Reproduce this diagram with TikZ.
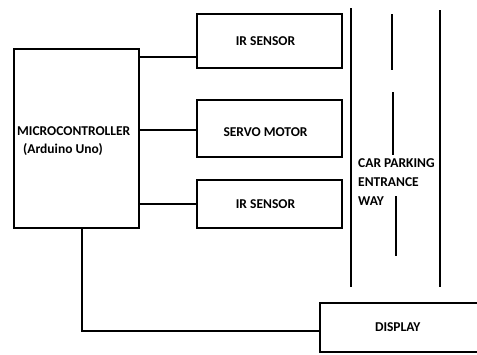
\documentclass[tikz,border=0pt]{standalone}
\usepackage{fontspec}
\setmainfont{Carlito}
\usetikzlibrary{positioning}

\tikzset{
  blk/.style={draw,line width=2.6pt,minimum width=145pt,font=\bfseries\fontsize{13.5}{19}\selectfont,inner sep=0pt},
  wire/.style={line width=2.4pt},
  road/.style={line width=2.6pt}
}

\begin{document}
\begin{tikzpicture}[x=1pt,y=-1pt]
\useasboundingbox (0,0) rectangle (477,354);
% main blocks
\node[blk,minimum width=125pt,minimum height=179pt](mcu) at (76.5,138.5){};
\node[font=\bfseries\fontsize{13.5}{19}\selectfont,align=left,anchor=north west,inner sep=0pt](mcutxt) at (17,126){MICROCONTROLLER\\[-0.5pt]\hspace{6pt}(Arduino Uno)};
\node[blk,minimum height=54pt](irA) at (269.5,41){\hspace{-8pt}IR SENSOR};
\node[blk,minimum height=57pt](servo) at (269.5,128.5){\hspace{-8pt}\raisebox{-8pt}[0pt][0pt]{SERVO MOTOR}};
\node[blk,minimum height=48pt](irB) at (269.5,204){\hspace{-8pt}IR SENSOR};
\node[blk,minimum width=165pt,minimum height=49pt,text width=165pt,align=left](disp) at (402.5,327.5){\hspace{55pt}DISPLAY};
% connectors
\coordinate (pA) at (197,57);
\coordinate (pB) at (197,130);
\coordinate (pC) at (197,204);
\coordinate (pD) at (82,331);
\draw[wire](mcu.east |- pA)--(irA.west |- pA);
\draw[wire](mcu.east |- pB)--(servo.west |- pB);
\draw[wire](mcu.east |- pC)--(irB.west |- pC);
\draw[wire](mcu.south -| pD)--(pD)--(disp.west |- pD);
% entrance way
\draw[road](351,8)--(351,287)
(440,10)--(440,287);
\draw[road](392,14)--(392,70)
(393,92)--(393,155)
(396,196)--(396,256);
\node[font=\bfseries\fontsize{13.5}{19}\selectfont,align=left,anchor=north west,inner sep=0pt](way) at (358,158){CAR PARKING\\ENTRANCE\\WAY};
\end{tikzpicture}
\end{document}
